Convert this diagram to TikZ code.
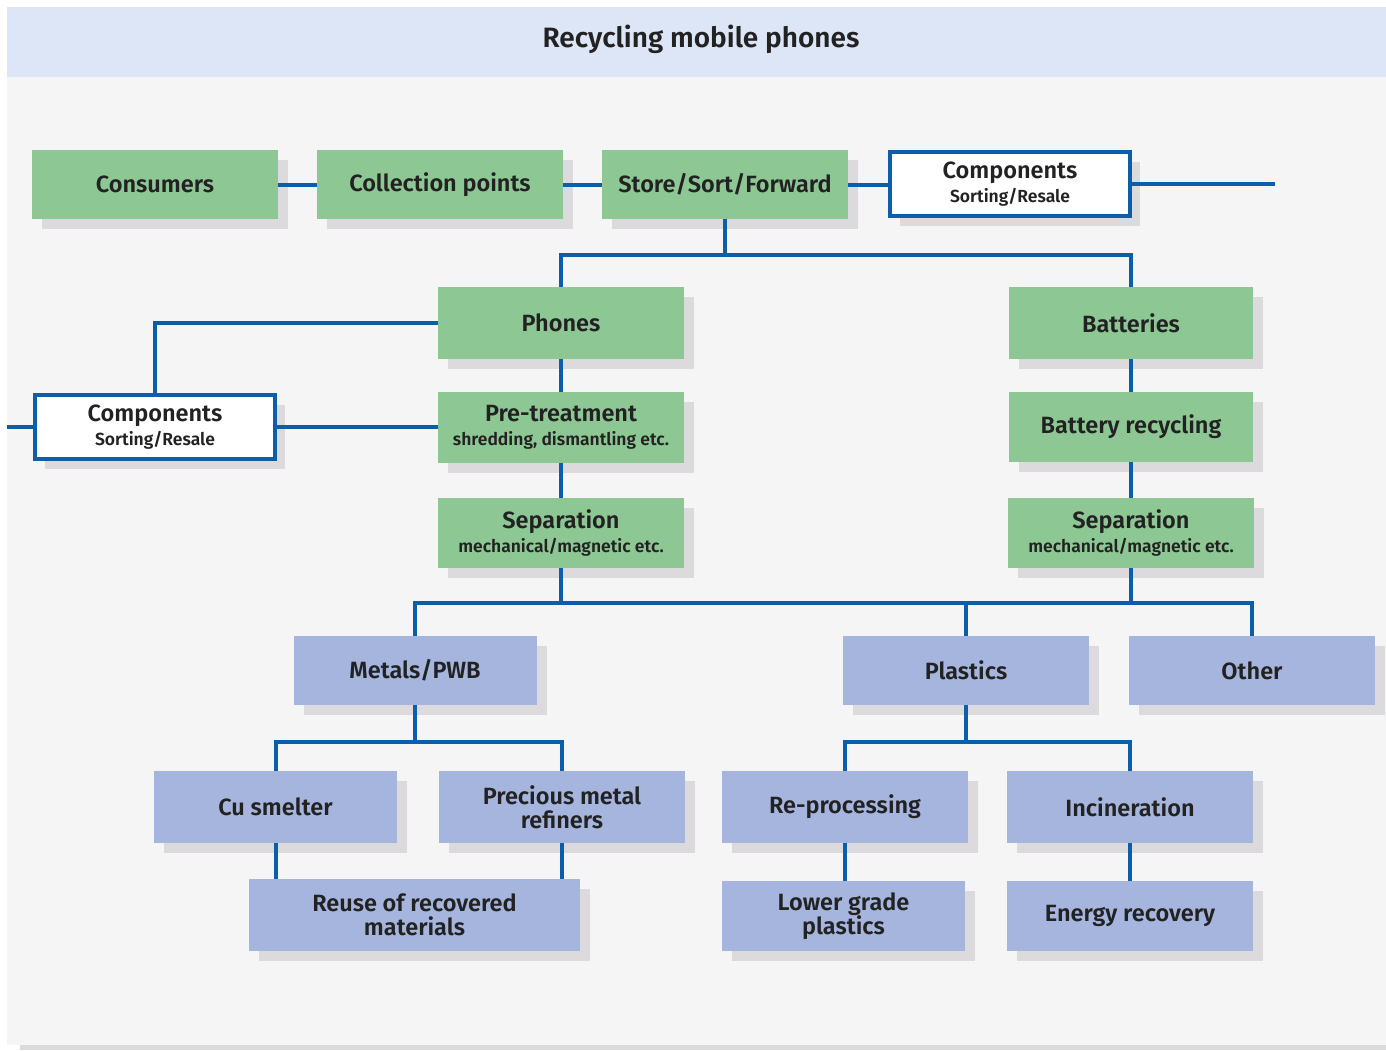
\documentclass[tikz,border=0pt]{standalone}
\usepackage{fontspec}
\setmainfont{Fira Sans}[BoldFont={Fira Sans SemiBold}]
\usetikzlibrary{shadows}
\definecolor{linecol}{HTML}{0A5EAA}
\definecolor{grn}{HTML}{8DC794}
\definecolor{blu}{HTML}{A5B5DE}
\definecolor{shad}{HTML}{DCDADC}
\definecolor{panel}{HTML}{F5F5F5}
\definecolor{band}{HTML}{DDE6F7}
\definecolor{txt}{HTML}{222222}
\newcommand{\subt}[1]{{\fontsize{17.5}{22}\selectfont #1}}
\begin{document}
\begin{tikzpicture}[x=1pt,y=-1pt,
  base/.style={rectangle, inner sep=0pt, text=txt, align=center,
    font=\fontsize{23.5}{24.5}\selectfont\bfseries,
    drop shadow={shadow xshift=10pt, shadow yshift=-10pt, fill=shad, opacity=1}},
  gbox/.style={base, fill=grn},
  bbox/.style={base, fill=blu},
  wbox/.style={base, fill=white, draw=linecol, line width=4pt},
  conn/.style={draw=linecol, line width=4pt}]
\useasboundingbox (0,0) rectangle (1386,1050);
% background
\fill[white] (0,0) rectangle (1386,1050);
\fill[panel] (7,77) rectangle (1386,1045);
\fill[shad] (20,1045) rectangle (1386,1050);
\fill[band] (7,7) rectangle (1386,77);
\node[text=txt, font=\fontsize{28}{32}\selectfont\bfseries] (title) at (701,39) {Recycling mobile phones};
% nodes
\node[gbox, minimum width=246pt, minimum height=69pt] (cons) at (155,184.5) {Consumers};
\node[gbox, minimum width=246pt, minimum height=69pt] (coll) at (440,184.5) {Collection points};
\node[gbox, minimum width=246pt, minimum height=69pt] (store) at (725,184.5) {Store/Sort/Forward};
\node[wbox, minimum width=240pt, minimum height=64pt] (comp1) at (1010,184) {Components\\\subt{Sorting/Resale}};
\node[gbox, minimum width=246pt, minimum height=72pt] (phones) at (561,323) {Phones};
\node[gbox, minimum width=246pt, minimum height=71pt] (pre) at (561,427.5) {Pre-treatment\\\subt{shredding, dismantling etc.}};
\node[gbox, minimum width=246pt, minimum height=70pt] (sepL) at (561,533) {Separation\\\subt{mechanical/magnetic etc.}};
\node[wbox, minimum width=240pt, minimum height=64pt] (comp2) at (155,427) {Components\\\subt{Sorting/Resale}};
\node[gbox, minimum width=244pt, minimum height=72pt] (bat) at (1131,323) {Batteries};
\node[gbox, minimum width=244pt, minimum height=70pt] (brec) at (1131,427) {Battery recycling};
\node[gbox, minimum width=246pt, minimum height=70pt] (sepR) at (1131,533) {Separation\\\subt{mechanical/magnetic etc.}};
\node[bbox, minimum width=243pt, minimum height=69pt] (metals) at (415,670.5) {Metals/PWB};
\node[bbox, minimum width=246pt, minimum height=69pt] (plast) at (966,670.5) {Plastics};
\node[bbox, minimum width=246pt, minimum height=69pt] (other) at (1252,670.5) {Other};
\node[bbox, minimum width=243pt, minimum height=72pt] (cu) at (275.5,807) {Cu smelter};
\node[bbox, minimum width=246pt, minimum height=72pt] (prec) at (562,807) {Precious metal\\refiners};
\node[bbox, minimum width=331pt, minimum height=72pt] (reuse) at (414.5,915) {Reuse of recovered\\materials};
\node[bbox, minimum width=246pt, minimum height=72pt] (repro) at (845,807) {Re-processing};
\node[bbox, minimum width=246pt, minimum height=72pt] (incin) at (1130,807) {Incineration};
\node[bbox, minimum width=243pt, minimum height=70pt] (lower) at (843.5,916) {Lower grade\\plastics};
\node[bbox, minimum width=246pt, minimum height=70pt] (energy) at (1130,916) {Energy recovery};
% junction coordinates
\coordinate (rt) at (1275,185);
\coordinate (lt) at (7,427);
\coordinate (j1) at (725,255);
\coordinate (bus) at (0,603);
\coordinate (mb) at (0,742);
\coordinate (pb) at (0,742);
% connectors
\draw[conn] (cons.east) -- (coll.west);
\draw[conn] (coll.east) -- (store.west);
\draw[conn] (store.east) -- (store.east -| comp1.west);
\draw[conn] (comp1.east) -- (comp1.east -| rt);
\draw[conn] (store.south) -- (j1);
\draw[conn] (phones.north) |- (j1) -| (bat.north);
\draw[conn] (phones.south) -- (pre.north);
\draw[conn] (pre.south) -- (sepL.north);
\draw[conn] (phones.west) -| (comp2.north);
\draw[conn] (comp2.east) -- (comp2.east -| pre.west);
\draw[conn] (comp2.west) -- (comp2.west -| lt);
\draw[conn] (bat.south) -- (brec.north);
\draw[conn] (brec.south) -- (sepR.north);
\draw[conn] (sepL.south) -- (sepL.south |- bus);
\draw[conn] (sepR.south) -- (sepR.south |- bus);
\draw[conn] (metals.north) -- (metals.north |- bus) -- (other.north |- bus) -- (other.north);
\draw[conn] (plast.north) -- (plast.north |- bus);
\draw[conn] (metals.south) -- (metals.south |- mb);
\draw[conn] (cu.north) |- (metals.south |- mb) -| (prec.north);
\draw[conn] (cu.south) -- (cu.south |- reuse.north);
\draw[conn] (prec.south) -- (prec.south |- reuse.north);
\draw[conn] (plast.south) -- (plast.south |- pb);
\draw[conn] (repro.north) |- (plast.south |- pb) -| (incin.north);
\draw[conn] (repro.south) -- (repro.south |- lower.north);
\draw[conn] (incin.south) -- (incin.south |- energy.north);
\end{tikzpicture}
\end{document}
